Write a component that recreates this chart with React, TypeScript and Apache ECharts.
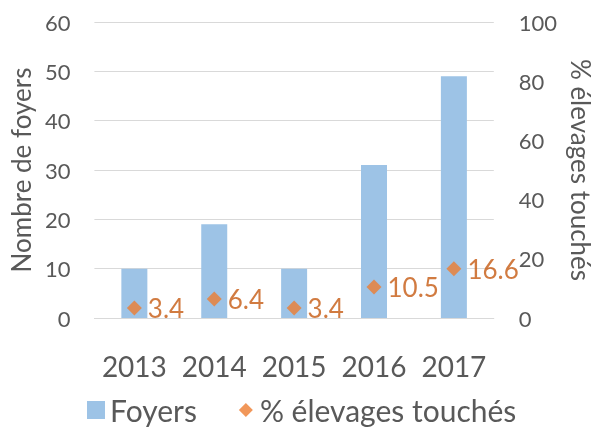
import React, { useEffect, useRef } from "react";
import * as echarts from "echarts";

const years = ["2013", "2014", "2015", "2016", "2017"];
const foyers = [10, 19, 10, 31, 49];
const pctElevages = [3.4, 6.4, 3.4, 10.5, 16.6];
const leftTicks = { min: 0, max: 60, interval: 10 };
const rightTicks = { min: 0, max: 100, interval: 20 };

const FONT = "Lato";
const GREY = "#595959";

export default function App() {
  const ref = useRef<HTMLDivElement>(null);
  useEffect(() => {
    if (!ref.current) return;
    const chart = echarts.init(ref.current, undefined, { renderer: "svg" });
    chart.setOption({
      animation: false,
      textStyle: { fontFamily: FONT },
      grid: { left: 92, right: 95, top: 22, bottom: 112, containLabel: false },
      legend: {
        bottom: 0,
        left: 82,
        itemWidth: 18,
        itemHeight: 18,
        itemGap: 40,
        textStyle: { fontSize: 30, color: GREY, fontFamily: FONT },
        data: [
          { name: "Foyers", icon: "rect" },
          { name: "% élevages touchés", icon: "path://M0,0 M18,18 M9,2 L16,9 L9,16 L2,9 Z" },
        ],
      },
      xAxis: {
        type: "category",
        data: years,
        axisLine: { lineStyle: { color: "#d9d9d9" } },
        axisTick: { show: false },
        axisLabel: { fontSize: 28, color: GREY, margin: 34, interval: 0, fontFamily: FONT },
      },
      yAxis: [
        {
          type: "value",
          ...leftTicks,
          name: "Nombre de foyers",
          nameLocation: "middle",
          nameGap: 58,
          nameTextStyle: { fontSize: 26, color: GREY, fontFamily: FONT },
          axisLabel: { fontSize: 22, color: GREY, margin: 24, fontFamily: FONT },
          splitLine: { lineStyle: { color: "#d9d9d9" } },
          axisLine: { show: false },
          axisTick: { show: false },
        },
        {
          type: "value",
          ...rightTicks,
          position: "right",
          name: "% élevages touchés",
          nameLocation: "middle",
          nameRotate: -90,
          nameGap: 68,
          nameTextStyle: { fontSize: 26, color: GREY, fontFamily: FONT },
          axisLabel: { fontSize: 22, color: GREY, margin: 25, fontFamily: FONT },
          splitLine: { show: false },
          axisLine: { show: false },
          axisTick: { show: false },
        },
      ],
      series: [
        {
          name: "Foyers",
          type: "bar",
          data: foyers,
          barWidth: 26,
          itemStyle: { color: "#9DC3E6" },
        },
        {
          name: "% élevages touchés",
          type: "scatter",
          yAxisIndex: 1,
          data: pctElevages,
          symbol: "diamond",
          symbolSize: 15,
          itemStyle: { color: "#ED7D31" },
          label: {
            show: true,
            position: "right",
            distance: 6,
            fontSize: 26,
            color: "#C55A11",
            fontFamily: FONT,
          },
        },
      ],
    });
    return () => chart.dispose();
  }, []);
  return (
    <div
      ref={ref}
      style={{ position: "fixed", left: 0, top: 0, width: 602, height: 430 }}
    />
  );
}
